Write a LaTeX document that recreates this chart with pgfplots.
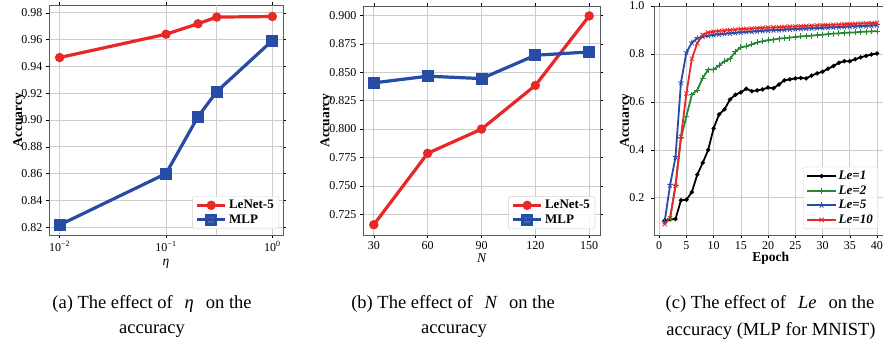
\documentclass[border=0pt]{standalone}
\usepackage{pgfplots}
\pgfplotsset{compat=1.18}
\usepackage{fontspec}
\setmainfont{Liberation Serif}

\definecolor{lred}{RGB}{232,40,38}
\definecolor{lblue}{RGB}{38,76,165}
\definecolor{lgreen}{RGB}{40,135,52}
\definecolor{gridgray}{RGB}{205,205,205}
\definecolor{framegray}{RGB}{90,90,90}

\pgfplotsset{
  panel/.style={
    scale only axis,
    axis line style={framegray, line width=0.7pt},
    grid=major,
    major grid style={gridgray, line width=0.7pt},
    tick align=outside,
    major tick length=3pt,
    minor tick length=2pt,
    tick style={black, line width=0.5pt},
    ticklabel style={font=\fontsize{12}{13}\selectfont},
    label style={font=\fontsize{13.5}{15}\selectfont\bfseries},
    legend cell align=left,
    legend style={anchor=south east, draw=gray!35, rounded corners=2pt,
      fill=white, fill opacity=0.85, text opacity=1,
      font=\fontsize{13}{15}\selectfont\bfseries,
      inner xsep=3pt, inner ysep=2pt, row sep=0.5pt},
    legend image code/.code={%
      \draw[mark repeat=2, mark phase=2] plot coordinates {(0cm,0cm) (0.5cm,0cm) (1cm,0cm)};},
  },
}

\begin{document}
\begin{tikzpicture}
\useasboundingbox (0pt,0pt) rectangle (883pt,349pt);
\clip (0pt,0pt) rectangle (883pt,349pt);

% (a) learning rate
\begin{axis}[panel,
  at={(49pt,114pt)}, anchor=south west, width=234pt, height=230pt,
  xmode=log, log basis x=10,
  xmin=0.0079433, xmax=1.2589, ymin=0.8142, ymax=0.9858,
  xtick={0.01,0.1,1},
  xticklabels={10\textsuperscript{−2},10\textsuperscript{−1},10\textsuperscript{0}},
  extra x ticks={0.3}, extra x tick labels={},
  extra x tick style={grid=major, major tick length=0pt},
  ytick={0.82,0.84,...,0.99},
  yticklabel style={/pgf/number format/.cd, fixed, fixed zerofill, precision=2},
  /pgf/number format/assume math mode=true,
  xlabel={\mdseries\itshape η}, ylabel={Accuarcy},
  xlabel style={at={(axis description cs:0.5,-0.125)}, anchor=center},
  ylabel style={at={(axis description cs:-0.128,0.5)}, anchor=center},
  legend style={at={(0.983,0.026)}},
]
\addplot[lred, line width=3.2pt, mark=*, mark size=3pt] coordinates {
  (0.01,0.9466) (0.1,0.9640) (0.2,0.9718) (0.3,0.9768) (1.0,0.9772)};
\addlegendentry{LeNet-5}
\addplot[lblue, line width=3.2pt, mark=square*, mark size=4.4pt] coordinates {
  (0.01,0.8217) (0.1,0.8600) (0.2,0.9025) (0.3,0.9212) (1.0,0.9593)};
\addlegendentry{MLP}
\end{axis}

% (b) number of clients
\begin{axis}[panel,
  at={(363pt,114pt)}, anchor=south west, width=237pt, height=229pt,
  xmin=24, xmax=156, ymin=0.7069, ymax=0.9082,
  xtick={30,60,...,150},
  ytick={0.725,0.750,...,0.901},
  yticklabel style={/pgf/number format/.cd, fixed, fixed zerofill, precision=3},
  /pgf/number format/assume math mode=true,
  xlabel={\mdseries\itshape N}, ylabel={Accuarcy},
  xlabel style={at={(axis description cs:0.5,-0.10)}, anchor=center},
  ylabel style={at={(axis description cs:-0.155,0.5)}, anchor=center},
  legend style={at={(0.979,0.026)}},
]
\addplot[lred, line width=3.2pt, mark=*, mark size=3pt] coordinates {
  (30,0.7159) (60,0.7787) (90,0.8000) (120,0.8384) (150,0.8995)};
\addlegendentry{LeNet-5}
\addplot[lblue, line width=3.2pt, mark=square*, mark size=4.4pt] coordinates {
  (30,0.8406) (60,0.8465) (90,0.8444) (120,0.8649) (150,0.8678)};
\addlegendentry{MLP}
\end{axis}

% (c) local epochs
\begin{axis}[panel,
  at={(654pt,114pt)}, anchor=south west, width=233.6pt, height=229pt,
  xmin=-0.95, xmax=41.95, ymin=0.045, ymax=1.0,
  xtick={0,5,...,40},
  ytick={0.2,0.4,...,1.01},
  yticklabel style={xshift=-3pt, /pgf/number format/.cd, fixed, fixed zerofill, precision=1},
  /pgf/number format/assume math mode=true,
  xlabel={Epoch}, ylabel={Accuarcy},
  xlabel style={at={(axis description cs:0.5,-0.10)}, anchor=center},
  ylabel style={at={(axis description cs:-0.12,0.5)}, anchor=center},
  legend style={at={(0.959,0.026)}, font=\fontsize{13}{15.5}\selectfont\bfseries\itshape},
]
\addplot[black, line width=1.8pt, mark=*, mark size=1.1pt] coordinates {
  (1,0.105) (2,0.110) (3,0.112) (4,0.190) (5,0.192) (6,0.224) (7,0.297) (8,0.346)
  (9,0.400) (10,0.490) (11,0.548) (12,0.569) (13,0.610) (14,0.630) (15,0.640)
  (16,0.655) (17,0.645) (18,0.648) (19,0.652) (20,0.660) (21,0.657) (22,0.673)
  (23,0.690) (24,0.694) (25,0.698) (26,0.700) (27,0.698) (28,0.710) (29,0.719)
  (30,0.726) (31,0.738) (32,0.750) (33,0.763) (34,0.770) (35,0.770) (36,0.778)
  (37,0.786) (38,0.792) (39,0.798) (40,0.802)};
\addlegendentry{Le=1}
\addplot[lgreen, line width=1.8pt, mark=+, mark size=3pt, mark options={line width=0.8pt}] coordinates {
  (1,0.100) (2,0.115) (3,0.250) (4,0.450) (5,0.540) (6,0.630) (7,0.650) (8,0.700)
  (9,0.735) (10,0.735) (11,0.752) (12,0.770) (13,0.780) (14,0.810) (15,0.828)
  (16,0.832) (17,0.840) (18,0.848) (19,0.853) (20,0.858) (21,0.860) (22,0.864)
  (23,0.866) (24,0.868) (25,0.871) (26,0.873) (27,0.875) (28,0.876) (29,0.879)
  (30,0.880) (31,0.883) (32,0.885) (33,0.886) (34,0.888) (35,0.889) (36,0.890)
  (37,0.892) (38,0.893) (39,0.894) (40,0.895)};
\addlegendentry{Le=2}
\addplot[lblue, line width=1.8pt, mark=star, mark size=3pt, mark options={line width=0.8pt}] coordinates {
  (1,0.100) (2,0.253) (3,0.370) (4,0.680) (5,0.806) (6,0.847) (7,0.866) (8,0.872)
  (9,0.876) (10,0.879) (11,0.882) (12,0.884) (13,0.886) (14,0.888) (15,0.890)
  (16,0.892) (17,0.893) (18,0.895) (19,0.896) (20,0.898) (21,0.899) (22,0.900)
  (23,0.901) (24,0.903) (25,0.904) (26,0.905) (27,0.906) (28,0.907) (29,0.908)
  (30,0.909) (31,0.910) (32,0.911) (33,0.912) (34,0.913) (35,0.914) (36,0.915)
  (37,0.916) (38,0.917) (39,0.918) (40,0.920)};
\addlegendentry{Le=5}
\addplot[lred, line width=1.8pt, mark=x, mark size=3pt, mark options={line width=0.8pt}] coordinates {
  (1,0.090) (2,0.115) (3,0.250) (4,0.455) (5,0.635) (6,0.780) (7,0.845) (8,0.880)
  (9,0.890) (10,0.893) (11,0.896) (12,0.898) (13,0.900) (14,0.902) (15,0.904)
  (16,0.905) (17,0.906) (18,0.908) (19,0.909) (20,0.910) (21,0.911) (22,0.912)
  (23,0.913) (24,0.914) (25,0.915) (26,0.916) (27,0.917) (28,0.918) (29,0.919)
  (30,0.920) (31,0.921) (32,0.922) (33,0.923) (34,0.924) (35,0.925) (36,0.926)
  (37,0.927) (38,0.928) (39,0.929) (40,0.930)};
\addlegendentry{Le=10}
\end{axis}

% sub-figure captions
\begin{scope}[font=\fontsize{18.5}{21}\selectfont]
\node at (152pt,45pt) {(a) The effect of\hspace{12pt}{\itshape η}\hspace{12pt}on the};
\node at (152pt,18pt) {accuracy};
\node at (453pt,45pt) {(b) The effect of\hspace{12pt}{\itshape N}\hspace{12pt}on the};
\node at (454pt,18pt) {accuracy};
\node at (770pt,45pt) {(c) The effect of\hspace{12pt}{\itshape Le}\hspace{12pt}on the};
\node at (771pt,18pt) {accuracy (MLP for MNIST)};
\end{scope}
\end{tikzpicture}
\end{document}
